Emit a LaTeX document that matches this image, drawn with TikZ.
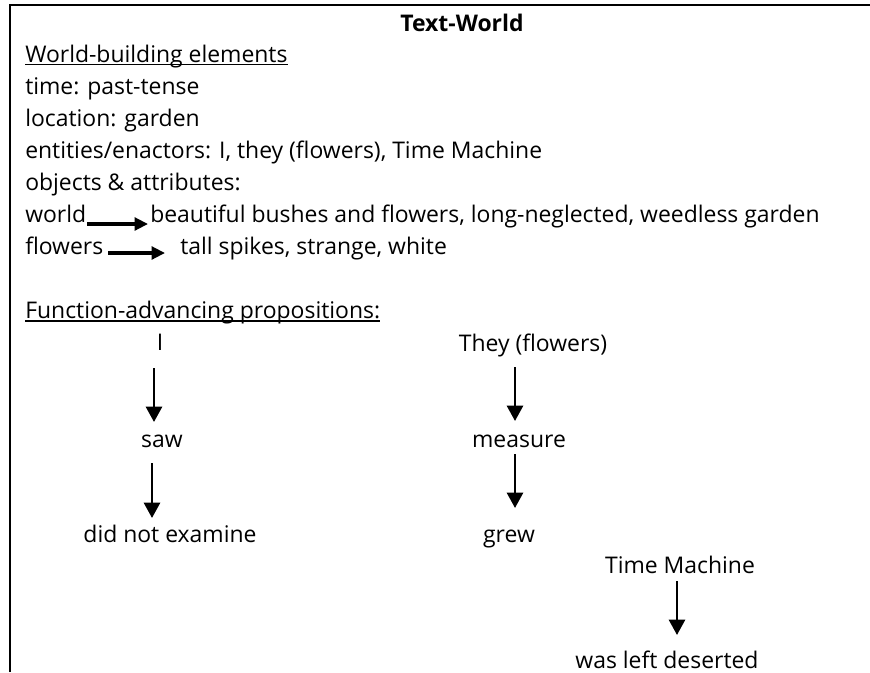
\documentclass[tikz,border=0pt]{standalone}
\usepackage{fontspec}
\setmainfont{Open Sans}
\usetikzlibrary{calc,arrows.meta}
\begin{document}
\begin{tikzpicture}[x=0.75pt,y=-0.75pt,
  txt/.style={inner sep=0pt, font=\fontsize{17.2}{20}\selectfont},
  lt/.style={txt, anchor=base west},
  ct/.style={txt, anchor=base},
  varr/.style={line width=2pt, -{Triangle[width=12pt,length=11.5pt]}},
  harr/.style={line width=2.4pt, -{Triangle[width=9.5pt,length=10pt]}},
  uline/.style={line width=1.1pt},
  frame/.style={line width=2pt, line join=miter}]
\useasboundingbox (0,0) rectangle (870,672);
\draw[frame] (10,672) -- (10,5) -- (870,5);
% title
\node[ct, font=\fontsize{17.2}{20}\selectfont\bfseries] (title) at (462,31) {Text-World};
% world-building elements
\node[lt] (wbe) at (25,62) {World-building elements};
\draw[uline] ($(wbe.base west)+(0,2.5)$) -- ($(wbe.base east)+(0,2.5)$);
\node[lt] (time) at (25,94) {time: past-tense};
\node[lt] (loc) at (25,126) {location: garden};
\node[lt] (ent) at (25,158) {entities/enactors: I, they (flowers), Time Machine};
\node[lt] (obj) at (25,190) {objects \& attributes:};
\node[lt] (world) at (25,222) {world};
\node[lt] (beaut) at (150,222) {beautiful bushes and flowers, long-neglected, weedless garden};
\draw[harr] ($(world.base west)+(62,2)$) -- ($(beaut.base west)+(-2,2)$);
\node[lt] (flw) at (25,254) {flowers};
\node[lt] (tall) at (180,254) {tall spikes, strange, white};
\draw[harr] ($(flw.base west)+(83,-1)$) -- ($(tall.base west)+(-15,-1)$);
% function-advancing propositions
\node[lt] (fap) at (25,318) {Function-advancing propositions:};
\draw[uline] ($(fap.base west)+(0,3)$) -- ($(fap.base east)+(0,3)$);
% I chain
\node[ct] (I) at (160,350) {I};
\node[ct] (saw) at (162,447) {saw};
\node[ct] (dne) at (170,542) {did not examine};
\draw[varr] ($(I.base)+(-6,18)$) -- ($(saw.base)+(-8,-25)$);
\draw[varr] ($(saw.base)+(-10,16)$) -- ($(dne.base)+(-18,-24)$);
% They chain
\node[ct] (they) at (533,351) {They (flowers)};
\node[ct] (meas) at (519,447) {measure};
\node[ct] (grew) at (509,542) {grew};
\draw[varr] ($(they.base)+(-18,16)$) -- ($(meas.base)+(-4,-26)$);
\draw[varr] ($(meas.base)+(-4,7)$) -- ($(grew.base)+(6,-34)$);
% Time Machine chain
\node[ct] (tm) at (680,573) {Time Machine};
\node[ct] (wld) at (667,668) {was left deserted};
\draw[varr] ($(tm.base)+(-3,8)$) -- ($(wld.base)+(10,-33)$);
\end{tikzpicture}
\end{document}
